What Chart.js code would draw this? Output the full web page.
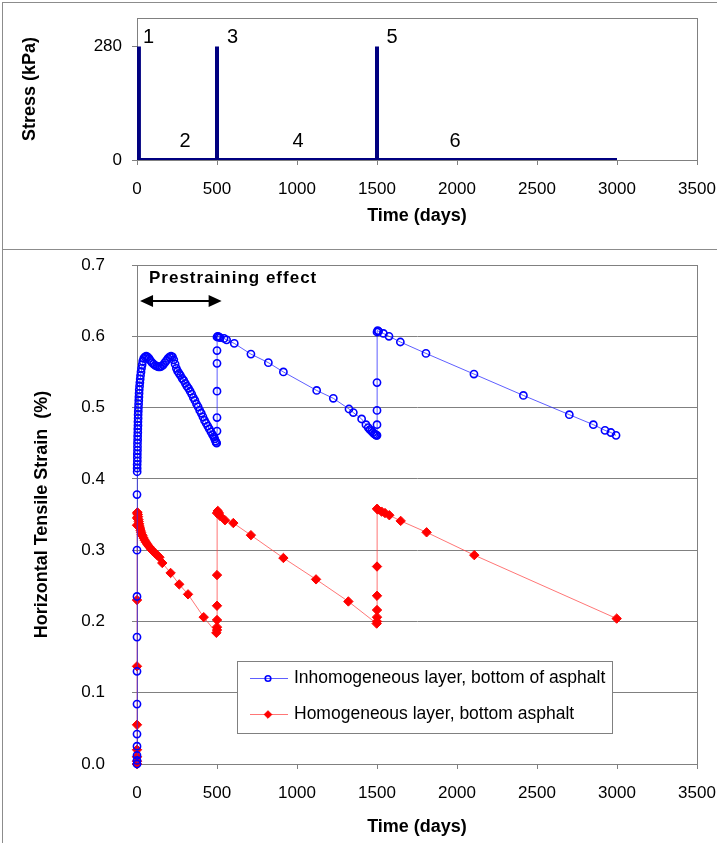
<!DOCTYPE html>
<html>
<head>
<meta charset="utf-8">
<title>Stress and horizontal tensile strain vs time</title>
<script src="https://cdn.jsdelivr.net/npm/chart.js@4.4.0/dist/chart.umd.min.js"></script>
<style>
    html, body { margin: 0; padding: 0; background: #fff; }
    #page { position: relative; width: 717px; height: 843px; overflow: hidden; background: #fff; }
    .rule { position: absolute; background: #8c8c8c; }
    #stressChart { position: absolute; left: 0; top: 0; }
    #strainChart { position: absolute; left: 0; top: 249px; }
</style>
</head>
<body>
<div id="page">
    <canvas id="stressChart" width="717" height="249"></canvas>
    <canvas id="strainChart" width="717" height="594"></canvas>
    <div class="rule" style="left:2px; top:2px; width:715px; height:1px;"></div>
    <div class="rule" style="left:2px; top:2px; width:1px; height:841px;"></div>
    <div class="rule" style="left:2px; top:249px; width:715px; height:1px;"></div>
</div>
<script>
// ---------- data ----------
const timeTicks = [0, 500, 1000, 1500, 2000, 2500, 3000, 3500];
const stressTicks = [0, 280];
const strainTicks = [0, 0.1, 0.2, 0.3, 0.4, 0.5, 0.6, 0.7];

// loading history (kPa)
const stressDays = [12, 12, 500, 500, 500, 1500, 1500, 1500, 3000];
const stressKPa  = [280, 0, 0, 280, 0, 0, 280, 0, 0];

// inhomogeneous layer, bottom of asphalt (%)
const inhomDays = [
    0, 0, 0, 0, 0, 0, 0, 0, 0, 0, 0,
    1, 1, 1, 2, 2, 2, 3, 3, 3, 4, 4, 5, 5, 6, 6, 7, 7, 8, 9, 10, 11, 12, 13, 14,
    16, 18, 20, 22, 25, 28, 32, 36, 42, 50, 58, 66, 75, 84, 94, 104, 114, 124, 134,
    144, 154, 164, 174, 184, 194, 204, 213, 222, 230, 238, 246, 254, 263, 272, 282,
    292, 302, 312, 322, 332, 342, 352, 362, 372, 382, 392, 402, 412, 422, 432, 442,
    452, 462, 472, 480, 486, 491, 495, 498,
    500, 500, 500, 500, 500, 500, 505, 512, 519, 544, 560, 608, 712, 821, 915, 1123,
    1227, 1325, 1352, 1404, 1431, 1445, 1456, 1466, 1475, 1483, 1490, 1496, 1500,
    1500, 1500, 1500, 1500, 1504, 1510, 1540, 1575, 1646, 1806, 2106, 2415, 2702,
    2852, 2925, 2962, 2994
];
const inhomStrain = [
    0.0, 0.005, 0.012, 0.025, 0.042, 0.084, 0.13, 0.178, 0.235, 0.30, 0.378,
    0.41, 0.415, 0.42, 0.425, 0.43, 0.435, 0.44, 0.445, 0.45, 0.455, 0.46, 0.465, 0.47, 0.475, 0.48, 0.485, 0.49, 0.495, 0.5, 0.505, 0.51, 0.515, 0.52, 0.525,
    0.53, 0.535, 0.54, 0.545, 0.55, 0.555, 0.56, 0.565, 0.569, 0.571, 0.572, 0.571, 0.569, 0.566, 0.563, 0.561, 0.559, 0.558, 0.557,
    0.557, 0.558, 0.56, 0.563, 0.566, 0.569, 0.571, 0.572, 0.571, 0.567, 0.561, 0.555, 0.551, 0.548, 0.545, 0.541,
    0.538, 0.534, 0.53, 0.527, 0.523, 0.519, 0.514, 0.51, 0.505, 0.501, 0.496, 0.492, 0.487, 0.482, 0.478, 0.474,
    0.47, 0.466, 0.462, 0.459, 0.456, 0.453, 0.451, 0.45,
    0.467, 0.486, 0.523, 0.562, 0.58, 0.599, 0.6, 0.599, 0.598, 0.597, 0.595, 0.59, 0.575, 0.563, 0.55, 0.524,
    0.513, 0.498, 0.493, 0.484, 0.476, 0.472, 0.469, 0.467, 0.465, 0.463, 0.462, 0.461, 0.461,
    0.476, 0.496, 0.535, 0.606, 0.608, 0.607, 0.604, 0.6, 0.592, 0.576, 0.547, 0.517, 0.49,
    0.476, 0.468, 0.465, 0.461
];

// homogeneous layer, bottom asphalt (%)
const homDays = [
    0, 0, 0, 0, 0, 0, 0, 0, 0,
    1, 3, 5, 7, 9, 11, 13, 16, 19, 22, 26, 30, 35, 41, 48, 56, 65, 75, 86, 98, 112, 126, 140,
    158, 210, 264, 319, 417, 496,
    500, 500, 500, 500, 500, 500, 505, 512, 519, 550, 602, 712, 915, 1119, 1321, 1498,
    1500, 1500, 1500, 1500, 1500, 1500, 1505, 1529, 1550, 1577, 1648, 1810, 2108, 2998
];
const homStrain = [
    0.0, 0.004, 0.01, 0.02, 0.055, 0.137, 0.23, 0.335, 0.345,
    0.352, 0.353, 0.35, 0.347, 0.343, 0.34, 0.337, 0.334, 0.331, 0.328, 0.325, 0.322, 0.32, 0.317, 0.314, 0.311, 0.308, 0.305, 0.302, 0.299, 0.296, 0.293, 0.29,
    0.282, 0.268, 0.252, 0.238, 0.206, 0.184,
    0.188, 0.192, 0.202, 0.222, 0.265, 0.352, 0.355, 0.352, 0.348, 0.342, 0.338, 0.321, 0.289, 0.259, 0.228, 0.197,
    0.2, 0.206, 0.216, 0.236, 0.277, 0.358, 0.357, 0.354, 0.352, 0.349, 0.341, 0.325, 0.293, 0.204
];

const seriesNames = [
    'Inhomogeneous layer, bottom of asphalt',
    'Homogeneous layer, bottom asphalt'
];

// ---------- shared style ----------
const FONT = "'Liberation Sans', Arial, sans-serif";
const GRAY = '#808080';
const TITLE_FONT = { family: FONT, size: 18, weight: 'bold' };
const TICK_FONT = { family: FONT, size: 17 };
const toPoints = (xs, ys) => xs.map((x, i) => ({ x: x, y: ys[i] }));
const plainNumber = v => String(v);

// outline the whole plot area
const plotFrame = {
    id: 'plotFrame',
    beforeDatasetsDraw(chart) {
        const a = chart.chartArea;
        const ctx = chart.ctx;
        ctx.save();
        ctx.strokeStyle = GRAY;
        ctx.lineWidth = 1;
        ctx.strokeRect(Math.round(a.left) + 0.5, Math.round(a.top) + 0.5,
            Math.round(a.right - a.left), Math.round(a.bottom - a.top));
        ctx.restore();
    }
};

// ---------- top chart: stress ----------
const stageLabels = [
    { text: '1', x: 72, y: 301 },
    { text: '2', x: 300, y: 46 },
    { text: '3', x: 597, y: 302 },
    { text: '4', x: 1006, y: 46 },
    { text: '5', x: 1594, y: 302 },
    { text: '6', x: 1988, y: 46 }
];

const stageText = {
    id: 'stageText',
    afterDatasetsDraw(chart) {
        const ctx = chart.ctx;
        const xs = chart.scales.x, ys = chart.scales.y;
        ctx.save();
        ctx.font = '20px ' + FONT;
        ctx.fillStyle = '#000';
        ctx.textAlign = 'center';
        ctx.textBaseline = 'middle';
        stageLabels.forEach(l => {
            ctx.fillText(l.text, xs.getPixelForValue(l.x), ys.getPixelForValue(l.y));
        });
        ctx.restore();
    }
};

new Chart(document.getElementById('stressChart'), {
    type: 'scatter',
    data: {
        datasets: [{
            label: 'Stress',
            data: toPoints(stressDays, stressKPa),
            showLine: true,
            borderColor: '#000080',
            borderWidth: 4,
            pointRadius: 0,
            tension: 0
        }]
    },
    options: {
        responsive: false,
        animation: false,
        layout: { padding: { left: 0, right: 20, top: 18, bottom: 0 } },
        plugins: { legend: { display: false }, tooltip: { enabled: false } },
        scales: {
            x: {
                type: 'linear', min: 0, max: 3500,
                afterBuildTicks: s => { s.ticks = timeTicks.map(v => ({ value: v })); },
                ticks: { color: '#000', font: TICK_FONT, padding: 14, maxRotation: 0, callback: plainNumber },
                grid: { drawOnChartArea: false, tickLength: 5, color: GRAY },
                border: { color: GRAY },
                title: { display: true, text: 'Time (days)', color: '#000',
                    font: TITLE_FONT, padding: { top: 0, bottom: 22 } },
                afterFit: s => { s.height = 89; s.paddingLeft = 0; s.paddingRight = 0; }
            },
            y: {
                type: 'linear', min: 0, max: 350,
                afterBuildTicks: s => { s.ticks = stressTicks.map(v => ({ value: v })); },
                ticks: { color: '#000', font: TICK_FONT, padding: 10, callback: plainNumber },
                grid: { drawOnChartArea: false, tickLength: 5, color: GRAY },
                border: { color: GRAY },
                title: { display: true, text: 'Stress (kPa)', color: '#000',
                    font: TITLE_FONT, padding: { top: 19, bottom: 0 } },
                afterFit: s => { s.width = 137; s.paddingTop = 0; s.paddingBottom = 0; }
            }
        }
    },
    plugins: [plotFrame, stageText]
});

// ---------- bottom chart: strain ----------
const prestrain = { text: 'Prestraining effect', textX: 75, textY: 0.682, fromX: 19, toX: 529, arrowY: 0.649 };

const prestrainNote = {
    id: 'prestrainNote',
    afterDatasetsDraw(chart) {
        const ctx = chart.ctx;
        const xs = chart.scales.x, ys = chart.scales.y;
        ctx.save();
        ctx.font = 'bold 17px ' + FONT;
        ctx.letterSpacing = '1px';
        ctx.fillStyle = '#000';
        ctx.textBaseline = 'middle';
        ctx.fillText(prestrain.text, xs.getPixelForValue(prestrain.textX), ys.getPixelForValue(prestrain.textY));
        ctx.letterSpacing = '0px';

        const y = Math.round(ys.getPixelForValue(prestrain.arrowY));
        const x1 = xs.getPixelForValue(prestrain.fromX);
        const x2 = xs.getPixelForValue(prestrain.toX);
        const head = 13, half = 6;
        ctx.strokeStyle = '#000';
        ctx.lineWidth = 2;
        ctx.beginPath();
        ctx.moveTo(x1 + head - 1, y);
        ctx.lineTo(x2 - head + 1, y);
        ctx.stroke();
        ctx.beginPath();
        ctx.moveTo(x1, y); ctx.lineTo(x1 + head, y - half); ctx.lineTo(x1 + head, y + half); ctx.closePath();
        ctx.moveTo(x2, y); ctx.lineTo(x2 - head, y - half); ctx.lineTo(x2 - head, y + half); ctx.closePath();
        ctx.fill();
        ctx.restore();
    }
};

// legend box drawn inside the plot area
const boxLegend = {
    id: 'boxLegend',
    afterDatasetsDraw(chart) {
        const ctx = chart.ctx;
        const a = chart.chartArea;
        const left = Math.round(a.left) + 100, top = Math.round(a.top) + 396;
        const w = 375, h = 72;
        ctx.save();
        ctx.fillStyle = '#fff';
        ctx.fillRect(left, top, w, h);
        ctx.strokeStyle = GRAY;
        ctx.lineWidth = 1;
        ctx.strokeRect(left + 0.5, top + 0.5, w, h);
        ctx.font = '17.5px ' + FONT;
        ctx.textBaseline = 'middle';
        chart.data.datasets.forEach((ds, i) => {
            const y = top + 17 + i * 36;
            ctx.strokeStyle = ds.borderColor;
            ctx.lineWidth = 1;
            ctx.beginPath();
            ctx.moveTo(left + 13, y + 0.5);
            ctx.lineTo(left + 51, y + 0.5);
            ctx.stroke();
            ctx.lineWidth = ds.pointBorderWidth;
            ctx.strokeStyle = ds.pointBorderColor;
            ctx.fillStyle = ds.pointBackgroundColor;
            Chart.helpers.drawPoint(ctx, {
                pointStyle: ds.pointStyle,
                radius: i === 0 ? 2.8 : 3.8,
                borderWidth: ds.pointBorderWidth,
                rotation: 0
            }, left + 31, y + 0.5);
            ctx.fillStyle = '#000';
            ctx.fillText(ds.label, left + 57, y);
        });
        ctx.restore();
    }
};

new Chart(document.getElementById('strainChart'), {
    type: 'scatter',
    data: {
        datasets: [{
            label: seriesNames[0],
            data: toPoints(inhomDays, inhomStrain),
            showLine: true,
            borderColor: 'rgba(40, 40, 255, 0.75)',
            borderWidth: 1,
            pointStyle: 'circle',
            pointRadius: 3.6,
            pointBorderWidth: 1.6,
            pointBorderColor: '#0000ff',
            pointBackgroundColor: 'rgba(255,255,255,0)',
            tension: 0,
            clip: false
        }, {
            label: seriesNames[1],
            data: toPoints(homDays, homStrain),
            showLine: true,
            borderColor: 'rgba(255, 60, 60, 0.7)',
            borderWidth: 1,
            pointStyle: 'rectRot',
            pointRadius: 4.7,
            pointBorderWidth: 1,
            pointBorderColor: '#ff0000',
            pointBackgroundColor: '#ff0000',
            tension: 0,
            clip: false
        }]
    },
    options: {
        responsive: false,
        animation: false,
        layout: { padding: { left: 0, right: 20, top: 16, bottom: 0 } },
        plugins: { legend: { display: false }, tooltip: { enabled: false } },
        scales: {
            x: {
                type: 'linear', min: 0, max: 3500,
                afterBuildTicks: s => { s.ticks = timeTicks.map(v => ({ value: v })); },
                ticks: { color: '#000', font: TICK_FONT, padding: 14, maxRotation: 0, callback: plainNumber },
                grid: { drawOnChartArea: false, tickLength: 5, color: GRAY },
                border: { color: GRAY },
                title: { display: true, text: 'Time (days)', color: '#000',
                    font: TITLE_FONT, padding: { top: 0, bottom: 5 } },
                afterFit: s => { s.height = 79; s.paddingLeft = 0; s.paddingRight = 0; }
            },
            y: {
                type: 'linear', min: 0, max: 0.7,
                afterBuildTicks: s => { s.ticks = strainTicks.map(v => ({ value: v })); },
                ticks: { color: '#000', font: TICK_FONT, padding: 27, callback: v => v.toFixed(1) },
                grid: { drawOnChartArea: true, tickLength: 5, color: GRAY },
                border: { color: GRAY },
                title: { display: true, text: 'Horizontal Tensile Strain  (%)', color: '#000',
                    font: TITLE_FONT, padding: { top: 31, bottom: 0 } },
                afterFit: s => { s.width = 137; s.paddingTop = 0; s.paddingBottom = 0; }
            }
        }
    },
    plugins: [plotFrame, prestrainNote, boxLegend]
});
</script>
</body>
</html>
